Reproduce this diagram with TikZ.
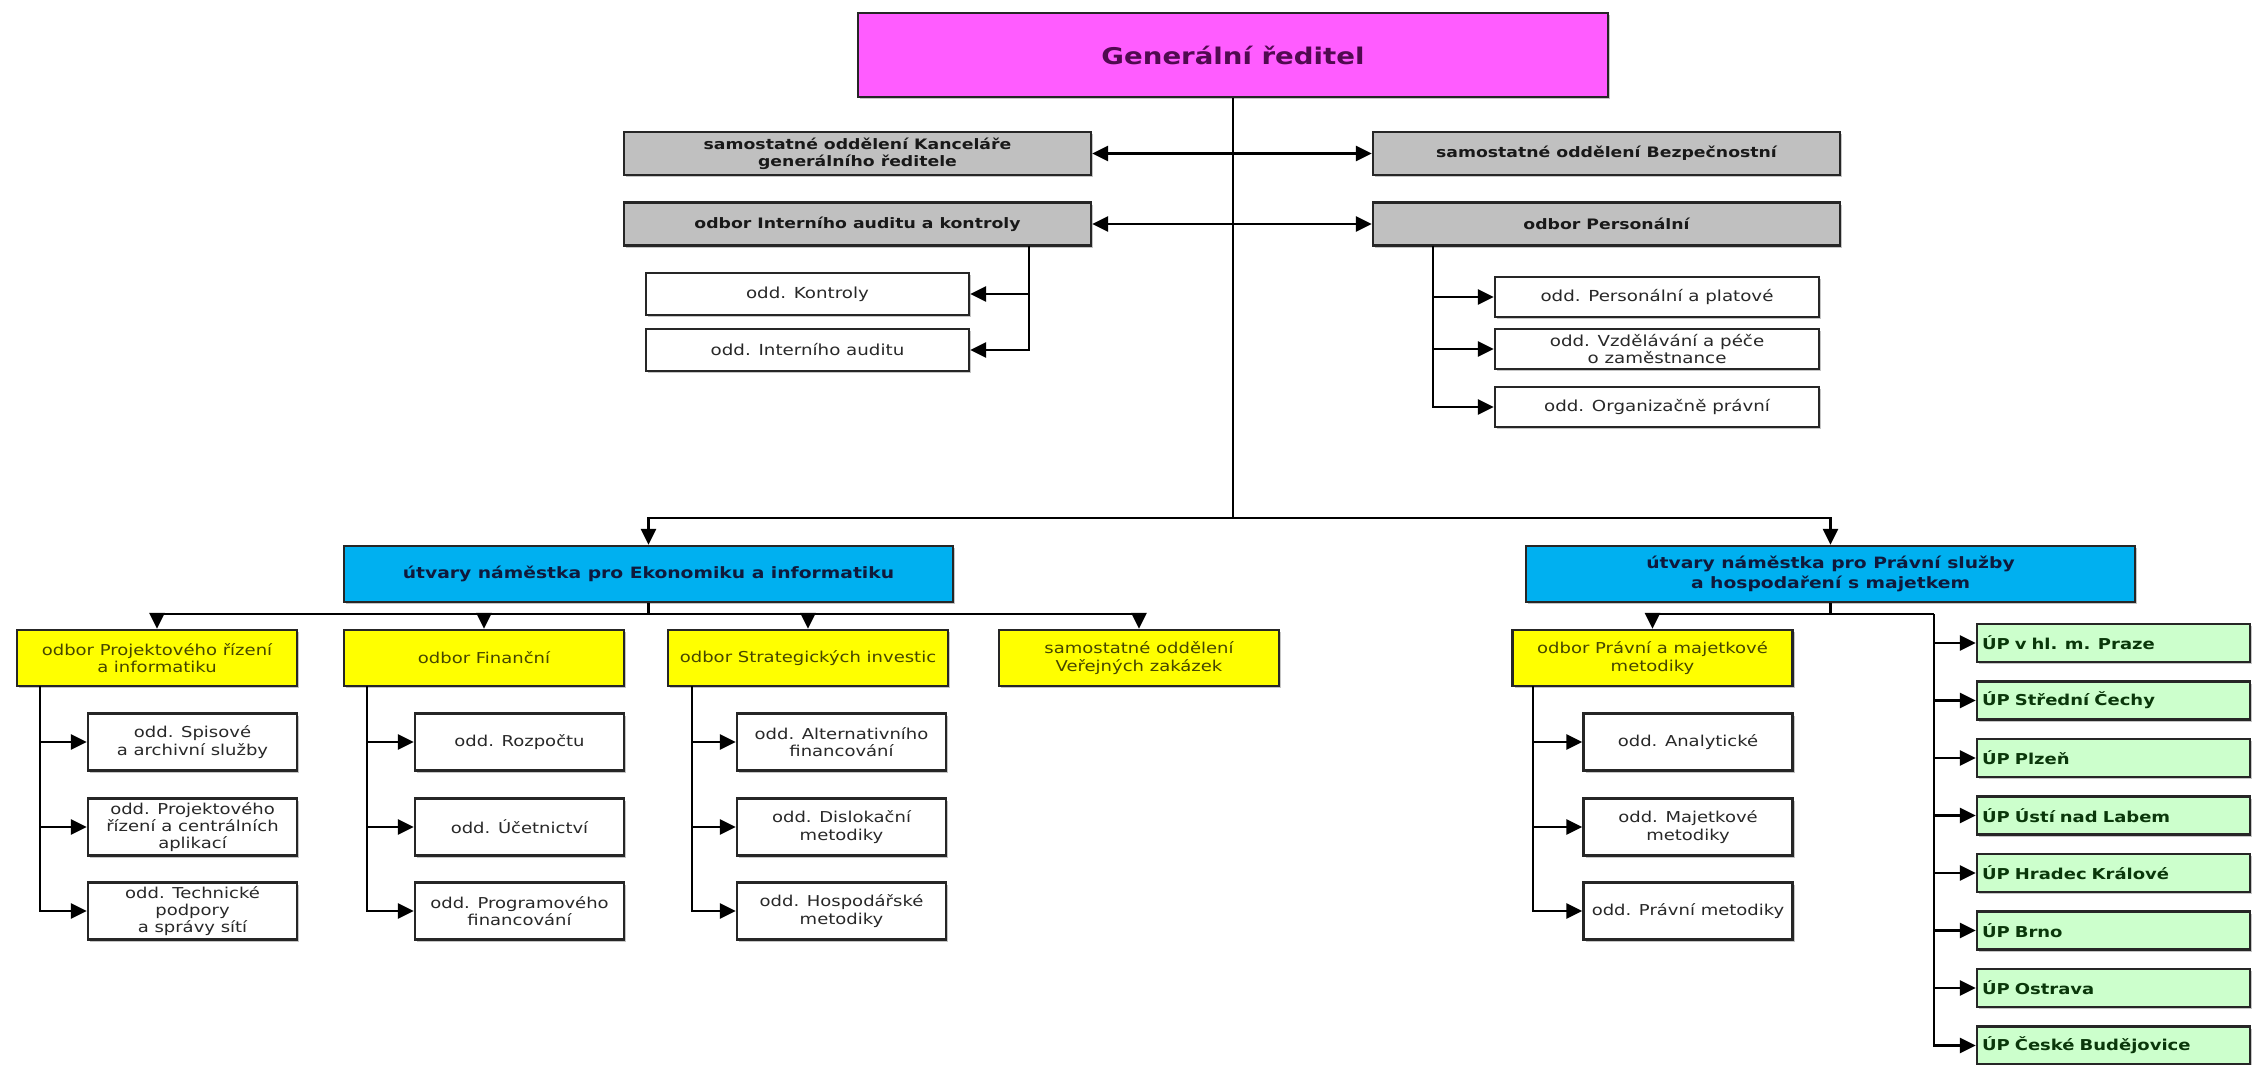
\documentclass[tikz,border=0pt]{standalone}
\usepackage{fontspec}
\newfontfamily\dv[FakeStretch=1.2]{DejaVu Sans}
\usetikzlibrary{arrows.meta,shadows}
\definecolor{magC}{RGB}{255,92,255}
\definecolor{greyC}{RGB}{192,192,192}
\definecolor{blueC}{RGB}{0,176,240}
\definecolor{yelC}{RGB}{255,255,0}
\definecolor{grnC}{RGB}{204,255,204}
\definecolor{grT}{RGB}{80,10,80}
\definecolor{bluT}{RGB}{15,25,60}
\definecolor{yelT}{RGB}{70,70,0}
\definecolor{grnT}{RGB}{10,55,10}
\definecolor{subT}{RGB}{40,40,40}
\begin{document}
\begin{tikzpicture}[x=0.5pt,y=-0.5pt,
  box/.style={draw=black!85, line width=1.2pt, inner sep=1pt, align=center,
    drop shadow={shadow xshift=1.2pt, shadow yshift=-1.2pt, fill=black!45, opacity=0.5}},
  grbox/.style={box, fill=magC, minimum width=375pt, minimum height=42pt, text=grT,
    font=\dv\bfseries\fontsize{11.5}{13}\selectfont},
  greybox/.style={box, fill=greyC, minimum width=233.5pt, minimum height=21.5pt, text=black!90,
    font=\dv\bfseries\fontsize{7.2}{8.4}\selectfont},
  wl/.style={box, fill=white, minimum width=161.5pt, minimum height=21pt, text=subT,
    font=\dv\fontsize{7.6}{8.7}\selectfont},
  wr/.style={wl, minimum width=162pt, minimum height=20pt},
  bluebox/.style={box, fill=blueC, minimum width=304.5pt, minimum height=28pt, text=bluT,
    font=\dv\bfseries\fontsize{7.8}{9.6}\selectfont},
  yelbox/.style={box, fill=yelC, minimum width=140pt, minimum height=28pt, text=yelT,
    font=\dv\fontsize{7.5}{8.6}\selectfont},
  subbox/.style={box, fill=white, minimum width=104.5pt, minimum height=28.5pt, text=subT,
    font=\dv\fontsize{7.5}{8.6}\selectfont},
  grnbox/.style={box, fill=grnC, text width=131.5pt, inner xsep=2.5pt, minimum height=19pt,
    align=left, text=grnT, font=\dv\bfseries\fontsize{7.5}{8.6}\selectfont},
  ln/.style={line width=1.3pt, draw=black},
  arr/.style={ln, -{Triangle[length=8pt,width=7.5pt]}},
  dbl/.style={ln, {Triangle[length=8pt,width=7.5pt]}-{Triangle[length=8pt,width=7.5pt]}}
]
\fill[white] (0,0) rectangle (2259,1065);
\useasboundingbox (0,0) rectangle (2259,1065);

% top
\node[grbox] (gr) at (1233,55) {Generální ředitel};
\node[greybox] (kgr) at (857.5,153.5) {samostatné oddělení Kanceláře\\generálního ředitele};
\node[greybox] (bez) at (1606.5,153.5) {samostatné oddělení Bezpečnostní};
\node[greybox] (ia) at (857.5,224) {odbor Interního auditu a kontroly};
\node[greybox] (per) at (1606.5,224) {odbor Personální};

\node[wl] (kon) at (807.5,294) {odd. Kontroly};
\node[wl] (iau) at (807.5,350) {odd. Interního auditu};
\node[wr] (pp) at (1657,297) {odd. Personální a platové};
\node[wr] (vz) at (1657,349) {odd. Vzdělávání a péče\\o zaměstnance};
\node[wr] (op) at (1657,407) {odd. Organizačně právní};

% deputies
\node[bluebox] (n1) at (648.5,574) {útvary náměstka pro Ekonomiku a informatiku};
\node[bluebox] (n2) at (1830.5,574) {útvary náměstka pro Právní služby\\a hospodaření s majetkem};

% yellow
\node[yelbox] (y1) at (157,658) {odbor Projektového řízení\\a informatiku};
\node[yelbox] (y2) at (484,658) {odbor Finanční};
\node[yelbox] (y3) at (808,658) {odbor Strategických investic};
\node[yelbox] (y4) at (1139,658) {samostatné oddělení\\Veřejných zakázek};
\node[yelbox] (y5) at (1652.5,658) {odbor Právní a majetkové\\metodiky};

% sub departments
\node[subbox] (s11) at (192.5,742) {odd. Spisové\\a archivní služby};
\node[subbox] (s12) at (192.5,827) {odd. Projektového\\řízení a centrálních\\aplikací};
\node[subbox] (s13) at (192.5,911) {odd. Technické\\podpory\\a správy sítí};
\node[subbox] (s21) at (519.5,742) {odd. Rozpočtu};
\node[subbox] (s22) at (519.5,827) {odd. Účetnictví};
\node[subbox] (s23) at (519.5,911) {odd. Programového\\financování};
\node[subbox] (s31) at (841.5,742) {odd. Alternativního\\financování};
\node[subbox] (s32) at (841.5,827) {odd. Dislokační\\metodiky};
\node[subbox] (s33) at (841.5,911) {odd. Hospodářské\\metodiky};
\node[subbox] (s41) at (1688,742) {odd. Analytické};
\node[subbox] (s42) at (1688,827) {odd. Majetkové\\metodiky};
\node[subbox] (s43) at (1688,911) {odd. Právní metodiky};

% regional offices
\node[grnbox] (g1) at (2113.5,643) {ÚP v hl. m. Praze};
\node[grnbox] (g2) at (2113.5,700.5) {ÚP Střední Čechy};
\node[grnbox] (g3) at (2113.5,758) {ÚP Plzeň};
\node[grnbox] (g4) at (2113.5,815.5) {ÚP Ústí nad Labem};
\node[grnbox] (g5) at (2113.5,873) {ÚP Hradec Králové};
\node[grnbox] (g6) at (2113.5,930.5) {ÚP Brno};
\node[grnbox] (g7) at (2113.5,988) {ÚP Ostrava};
\node[grnbox] (g8) at (2113.5,1045.5) {ÚP České Budějovice};

% connectors
\coordinate (hub) at (1233,518);
\draw[ln] (gr.south) -- (hub);
\draw[arr] (hub) -| (n1.north);
\draw[arr] (hub) -| (n2.north);
\draw[dbl] (kgr.east) -- (bez.west);
\draw[dbl] (ia.east) -- (per.west);

\coordinate (iav) at (1029,245.5);
\draw[arr] (iav) |- (kon.east);
\draw[arr] (iav) |- (iau.east);
\coordinate (pv) at (1433,245.5);
\draw[arr] (pv) |- (pp.west);
\draw[arr] (pv) |- (vz.west);
\draw[arr] (pv) |- (op.west);

\coordinate (b1) at (648.5,614);
\draw[ln] (n1.south) -- (b1);
\foreach \t in {y1,y2,y3,y4} \draw[arr] (b1) -| (\t.north);

\coordinate (b2) at (1830.5,614);
\coordinate (gv) at (1934,614);
\draw[ln] (n2.south) -- (b2) -- (gv);
\draw[arr] (b2) -| (y5.north);
\foreach \t in {g1,g2,g3,g4,g5,g6,g7,g8} \draw[arr] (gv) |- (\t.west);

\coordinate (v1) at (40,686);
\coordinate (v2) at (367,686);
\coordinate (v3) at (692,686);
\coordinate (v4) at (1533,686);
\foreach \t in {s11,s12,s13} \draw[arr] (v1) |- (\t.west);
\foreach \t in {s21,s22,s23} \draw[arr] (v2) |- (\t.west);
\foreach \t in {s31,s32,s33} \draw[arr] (v3) |- (\t.west);
\foreach \t in {s41,s42,s43} \draw[arr] (v4) |- (\t.west);
\end{tikzpicture}
\end{document}
